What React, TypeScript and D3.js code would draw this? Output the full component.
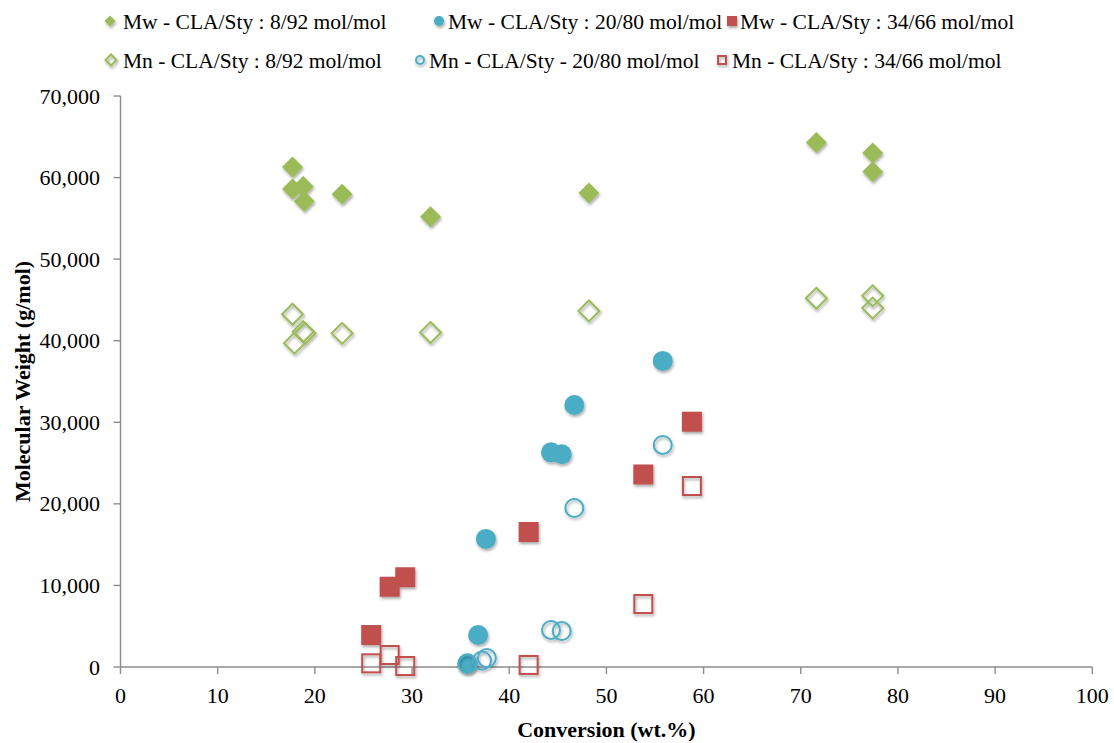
import React from "react";
import * as d3 from "d3";

// Conversion (wt.%) and molecular weight (g/mol) for each series
const mwLowX = [17.7, 17.7, 18.8, 18.9, 22.8, 31.9, 48.2, 71.6, 77.4, 77.4];
const mwLowY = [61300, 58600, 58900, 57100, 57950, 55200, 58100, 64300, 63000, 60700];

const mwMidX = [35.7, 36.8, 37.6, 44.3, 45.4, 46.7, 55.8];
const mwMidY = [450, 3920, 15700, 26320, 26080, 32120, 37520];

const mwHighX = [25.8, 27.7, 29.3, 42.0, 53.8, 58.8];
const mwHighY = [3920, 9840, 11000, 16550, 23600, 30070];

const mnLowX = [17.7, 18.8, 19.0, 17.9, 22.8, 31.9, 48.2, 71.6, 77.4, 77.4];
const mnLowY = [43240, 41100, 40900, 39700, 40900, 41000, 43650, 45200, 45500, 44000];

const mnMidX = [35.7, 37.2, 37.7, 44.3, 45.4, 46.7, 55.8];
const mnMidY = [400, 800, 1100, 4540, 4410, 19490, 27220];

const mnHighX = [25.8, 27.7, 29.3, 42.0, 53.8, 58.8];
const mnHighY = [450, 1470, 120, 250, 7720, 22190];

const xTicks = [0, 10, 20, 30, 40, 50, 60, 70, 80, 90, 100];
const yTicks = [0, 10000, 20000, 30000, 40000, 50000, 60000, 70000];

const GREEN = "#9BBB59";
const BLUE = "#4BACC6";
const RED = "#C0504D";

type Shape = "diamond" | "circle" | "square";

const seriesList = [
  { name: "Mw - CLA/Sty : 8/92 mol/mol", xs: mwLowX, ys: mwLowY, color: GREEN, shape: "diamond" as Shape, open: false },
  { name: "Mw - CLA/Sty : 20/80 mol/mol", xs: mwMidX, ys: mwMidY, color: BLUE, shape: "circle" as Shape, open: false },
  { name: "Mw - CLA/Sty : 34/66 mol/mol", xs: mwHighX, ys: mwHighY, color: RED, shape: "square" as Shape, open: false },
  { name: "Mn - CLA/Sty : 8/92 mol/mol", xs: mnLowX, ys: mnLowY, color: GREEN, shape: "diamond" as Shape, open: true },
  { name: "Mn - CLA/Sty - 20/80 mol/mol", xs: mnMidX, ys: mnMidY, color: BLUE, shape: "circle" as Shape, open: true },
  { name: "Mn - CLA/Sty : 34/66 mol/mol", xs: mnHighX, ys: mnHighY, color: RED, shape: "square" as Shape, open: true },
];

// legend placement: [markerX, textX, baselineY]
const legendPos = [
  [110, 123, 29],
  [439, 448, 29],
  [732, 740, 29],
  [111, 123, 68],
  [420, 429, 68],
  [722, 732, 68],
];

const FONT = "'Liberation Serif', 'Times New Roman', serif";

function Marker({ shape, x, y, size, color, open }: { shape: Shape; x: number; y: number; size: number; color: string; open: boolean }) {
  const fill = open ? "none" : color;
  const stroke = color;
  const sw = open ? 2 : 0;
  if (shape === "diamond") {
    const r = size / 2;
    const d = `M${x},${y - r}L${x + r},${y}L${x},${y + r}L${x - r},${y}Z`;
    return <path d={d} fill={fill} stroke={stroke} strokeWidth={sw} />;
  }
  if (shape === "circle") {
    return <circle cx={x} cy={y} r={size / 2 - (open ? 1 : 0)} fill={fill} stroke={stroke} strokeWidth={sw} />;
  }
  const s = size - (open ? 2 : 0);
  return <rect x={x - s / 2} y={y - s / 2} width={s} height={s} fill={fill} stroke={stroke} strokeWidth={sw} />;
}

export default function App() {
  const width = 1114;
  const height = 743;
  const x = d3.scaleLinear().domain([0, 100]).range([120.5, 1092.3]);
  const y = d3.scaleLinear().domain([0, 70000]).range([667, 96]);
  const fmt = d3.format(",");
  const axisColor = "#8C8C8C";

  return (
    <svg width={width} height={height} style={{ position: "absolute", left: 0, top: 0, background: "#fff" }} fontFamily={FONT}>
      <defs>
        <filter id="shadow" x="-50%" y="-50%" width="200%" height="200%">
          <feDropShadow dx="1" dy="2" stdDeviation="1.4" floodColor="#000" floodOpacity="0.35" />
        </filter>
      </defs>

      {/* axes */}
      <line x1={x(0)} x2={x(0)} y1={y(70000)} y2={y(0)} stroke={axisColor} strokeWidth={1.4} />
      <line x1={x(0)} x2={x(100)} y1={y(0)} y2={y(0)} stroke={axisColor} strokeWidth={1.4} />
      {yTicks.map((t) => (
        <g key={"y" + t}>
          <line x1={x(0) - 7} x2={x(0)} y1={y(t)} y2={y(t)} stroke={axisColor} strokeWidth={1.4} />
          <text x={100} y={y(t) + 7.5} textAnchor="end" fontSize={22} fill="#000">
            {fmt(t)}
          </text>
        </g>
      ))}
      {xTicks.map((t) => (
        <g key={"x" + t}>
          <line x1={x(t)} x2={x(t)} y1={y(0)} y2={y(0) + 7} stroke={axisColor} strokeWidth={1.4} />
          <text x={x(t)} y={703} textAnchor="middle" fontSize={22} fill="#000">
            {t}
          </text>
        </g>
      ))}

      {/* axis titles */}
      <text x={(x(0) + x(100)) / 2} y={737} textAnchor="middle" fontSize={22} fontWeight="bold" fill="#000">
        Conversion (wt.%)
      </text>
      <text
        transform={`translate(30, ${(y(0) + y(70000)) / 2}) rotate(-90)`}
        textAnchor="middle"
        fontSize={22}
        fontWeight="bold"
        fill="#000"
      >
        Molecular Weight (g/mol)
      </text>

      {/* data */}
      {seriesList.map((s, si) => (
        <g key={"s" + si} filter="url(#shadow)">
          {s.xs.map((xv, i) => (
            <Marker key={i} shape={s.shape} x={x(xv)} y={y(s.ys[i])} size={s.shape === "diamond" ? 21 : 20} color={s.color} open={s.open} />
          ))}
        </g>
      ))}

      {/* legend */}
      {seriesList.map((s, si) => {
        const [mx, tx, by] = legendPos[si];
        return (
          <g key={"l" + si}>
            <g filter="url(#shadow)">
              <Marker shape={s.shape} x={mx} y={by - 8} size={s.shape === "diamond" ? 11 : 10} color={s.color} open={s.open} />
            </g>
            <text x={tx} y={by} fontSize={21.5} fill="#000">
              {s.name}
            </text>
          </g>
        );
      })}
    </svg>
  );
}
